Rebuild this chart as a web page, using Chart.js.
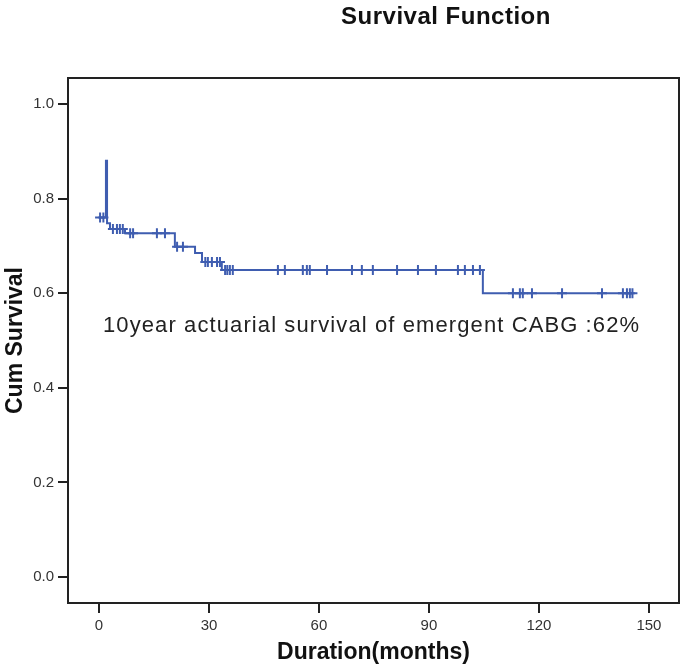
<!DOCTYPE html>
<html>
<head>
<meta charset="utf-8">
<script src="https://cdn.jsdelivr.net/npm/chart.js@4"></script>
<style>
  html, body { margin: 0; padding: 0; background: #fff; overflow: hidden; }
  #wrap { width: 680px; height: 669px; }
</style>
</head>
<body>
<div id="wrap"><canvas id="chart"></canvas></div>
<script>
// Kaplan-Meier steps: survival value holds from each time until the next one
const stepTimes = [0, 1.9, 2.2, 3.0, 7.1, 20.7, 26.2, 28.1, 33.5, 104.7, 145.5];
const stepSurvival = [0.76, 0.88, 0.748, 0.736, 0.727, 0.698, 0.685, 0.666, 0.649, 0.600, 0.600];

// censored cases (months)
const censoredTimes = [
    0.3, 1.2, 3.8, 4.9, 5.7, 6.5, 8.5, 9.3, 15.8, 18.0, 21.3, 22.9,
    29.0, 29.7, 30.8, 32.2, 33.0, 34.4, 35.0, 35.7, 36.5,
    48.8, 50.7, 55.6, 56.7, 57.5, 62.2, 69.0, 71.7, 74.7, 81.3, 87.0,
    91.9, 97.9, 99.8, 102.0, 103.9,
    112.9, 114.8, 115.6, 118.1, 126.3, 137.2, 142.9, 144.0, 144.8, 145.5
];

const xTicks = [0, 30, 60, 90, 120, 150];
const yTicks = [0.0, 0.2, 0.4, 0.6, 0.8, 1.0];

const chartTitle = "Survival Function";
const xTitle = "Duration(months)";
const yTitle = "Cum Survival";
const note = "10year actuarial survival of emergent CABG :62%";

const lineColor = "#3f5db0";

// survival at time t
function survivalAt(t) {
    let s = stepSurvival[0];
    for (let i = 0; i < stepTimes.length; i++) {
        if (stepTimes[i] <= t) s = stepSurvival[i];
    }
    return s;
}

// 'before' in chart.js: stay at previous value, then drop at the new time
const curvePoints = stepTimes.map((t, i) => ({ x: t, y: stepSurvival[i] }));
const censorPoints = censoredTimes.map(t => ({ x: t, y: survivalAt(t) }));

const framePlugin = {
    id: "frame",
    afterDraw(chart) {
        const { ctx, chartArea: a, scales } = chart;
        ctx.save();
        ctx.strokeStyle = "#222";
        ctx.lineWidth = 2;
        ctx.strokeRect(a.left, a.top, a.right - a.left, a.bottom - a.top);

        ctx.fillStyle = "#111";
        ctx.textAlign = "center";
        ctx.textBaseline = "middle";
        ctx.font = "bold 24px 'Liberation Sans', Arial, sans-serif";
        ctx.letterSpacing = "0.5px";
        ctx.fillText(chartTitle, 446, 17);

        ctx.fillStyle = "#222";
        ctx.textAlign = "left";
        ctx.font = "22px 'Liberation Sans', Arial, sans-serif";
        ctx.letterSpacing = "1.1px";
        ctx.fillText(note, scales.x.getPixelForValue(1.1), scales.y.getPixelForValue(0.531));
        ctx.restore();
    }
};

const tickFont = { family: "'Liberation Sans', Arial, sans-serif", size: 15 };
const titleFont = { family: "'Liberation Sans', Arial, sans-serif", size: 23, weight: "bold" };

new Chart(document.getElementById("chart"), {
    type: "line",
    data: {
        datasets: [
            {
                label: "Survival",
                data: curvePoints,
                stepped: "before",
                borderColor: lineColor,
                borderWidth: 2,
                pointRadius: 0,
                fill: false
            },
            {
                label: "Censored",
                data: censorPoints,
                showLine: false,
                pointStyle: "cross",
                pointRadius: 5,
                pointBorderWidth: 2,
                pointBorderColor: lineColor,
                pointBackgroundColor: lineColor
            }
        ]
    },
    options: {
        responsive: true,
        maintainAspectRatio: false,
        animation: false,
        layout: { autoPadding: false, padding: { top: 78, right: 1, left: 0, bottom: 0 } },
        plugins: {
            legend: { display: false },
            tooltip: { enabled: false }
        },
        scales: {
            x: {
                type: "linear",
                min: -8.45,
                max: 158.2,
                afterBuildTicks: s => { s.ticks = xTicks.map(v => ({ value: v })); },
                afterFit: s => { s.height = 66; s.paddingLeft = 0; s.paddingRight = 0; },
                border: { display: false },
                grid: { drawOnChartArea: false, drawTicks: true, tickLength: 10, color: "#222", lineWidth: 2 },
                ticks: { font: tickFont, color: "#333", padding: 4, maxRotation: 0, autoSkip: false },
                title: { display: true, text: xTitle, font: titleFont, color: "#111", padding: { top: 0, bottom: 3 } }
            },
            y: {
                type: "linear",
                min: -0.055,
                max: 1.055,
                afterBuildTicks: s => { s.ticks = yTicks.map(v => ({ value: v })); },
                afterFit: s => { s.width = 68; s.paddingTop = 0; s.paddingBottom = 0; },
                border: { display: false },
                grid: { drawOnChartArea: false, drawTicks: true, tickLength: 10, color: "#222", lineWidth: 2 },
                ticks: { font: tickFont, color: "#333", padding: 4, autoSkip: false, callback: v => v.toFixed(1) },
                title: { display: true, text: yTitle, font: titleFont, color: "#111", padding: { top: 2, bottom: 0 } }
            }
        }
    },
    plugins: [framePlugin]
});
</script>
</body>
</html>
